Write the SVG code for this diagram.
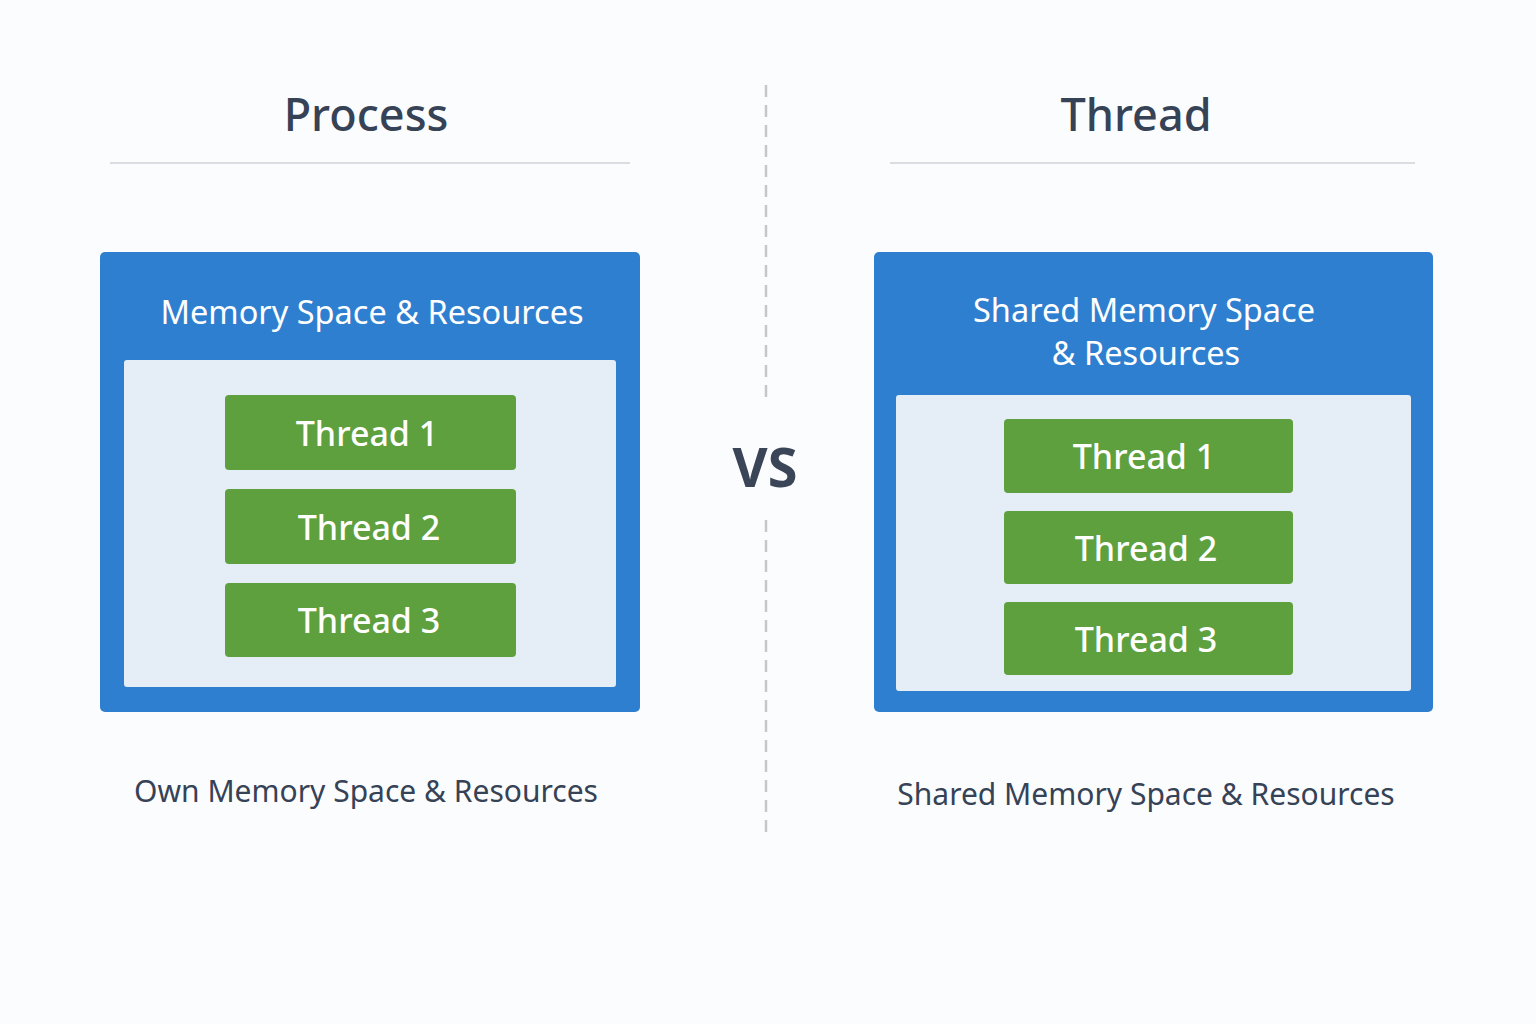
<svg xmlns="http://www.w3.org/2000/svg" width="1536" height="1024" viewBox="0 0 1536 1024">
<style>
.bg{fill:#fbfcfd}
.title{font-family:"Noto Sans","Open Sans",sans-serif;font-size:45px;fill:#364256;text-anchor:middle;font-weight:500}
.rule{stroke:#cfd3d8;stroke-width:1.5}
.outer{fill:#2f7fd0}
.inner{fill:#e5eef7}
.thr{fill:#5e9f3e}
.boxt{font-family:"Noto Sans","Open Sans",sans-serif;font-size:32.5px;fill:#ffffff;text-anchor:middle}
.thrt{font-family:"Noto Sans","Open Sans",sans-serif;font-size:34px;fill:#ffffff;text-anchor:middle;font-weight:500}
.cap{font-family:"Noto Sans","Open Sans",sans-serif;font-size:30px;fill:#364256;text-anchor:middle}
.vs{font-family:"Noto Sans","Open Sans",sans-serif;font-size:54px;fill:#3a4558;text-anchor:middle;font-weight:700}
.dash{stroke:#c4c6c9;stroke-width:2.5;stroke-dasharray:12 8}
</style>
<rect class="bg" x="0" y="0" width="1536" height="1024"/>
<g id="process-header">
<text class="title" x="366" y="131">Process</text>
<line class="rule" x1="110" y1="163" x2="630" y2="163"/>
</g>
<g id="thread-header">
<text class="title" x="1136" y="131">Thread</text>
<line class="rule" x1="890" y1="163" x2="1415" y2="163"/>
</g>
<g id="divider">
<line class="dash" x1="766" y1="85" x2="766" y2="402"/>
<line class="dash" x1="766" y1="520" x2="766" y2="838"/>
<text class="vs" x="765" y="487">VS</text>
</g>
<g id="process-box">
<rect class="outer" x="100" y="252" width="540" height="460" rx="5"/>
<text class="boxt" x="372" y="324">Memory Space &amp; Resources</text>
<rect class="inner" x="124" y="360" width="492" height="327" rx="3"/>
</g>
<g id="p-thread1"><rect class="thr" x="225" y="395" width="291" height="75" rx="4"/><text class="thrt" x="367" y="446">Thread 1</text></g>
<g id="p-thread2"><rect class="thr" x="225" y="489" width="291" height="75" rx="4"/><text class="thrt" x="369" y="540">Thread 2</text></g>
<g id="p-thread3"><rect class="thr" x="225" y="583" width="291" height="74" rx="4"/><text class="thrt" x="369" y="633">Thread 3</text></g>
<g id="thread-box">
<rect class="outer" x="874" y="252" width="559" height="460" rx="5"/>
<text class="boxt" x="1144" y="322">Shared Memory Space</text>
<text class="boxt" x="1146" y="365">&amp; Resources</text>
<rect class="inner" x="896" y="395" width="515" height="296" rx="3"/>
</g>
<g id="t-thread1"><rect class="thr" x="1004" y="419" width="289" height="74" rx="4"/><text class="thrt" x="1144" y="469">Thread 1</text></g>
<g id="t-thread2"><rect class="thr" x="1004" y="511" width="289" height="73" rx="4"/><text class="thrt" x="1146" y="561">Thread 2</text></g>
<g id="t-thread3"><rect class="thr" x="1004" y="602" width="289" height="73" rx="4"/><text class="thrt" x="1146" y="652">Thread 3</text></g>
<g id="captions">
<text class="cap" x="366" y="802">Own Memory Space &amp; Resources</text>
<text class="cap" x="1146" y="805">Shared Memory Space &amp; Resources</text>
</g>
<g id="connectors"></g>
</svg>
